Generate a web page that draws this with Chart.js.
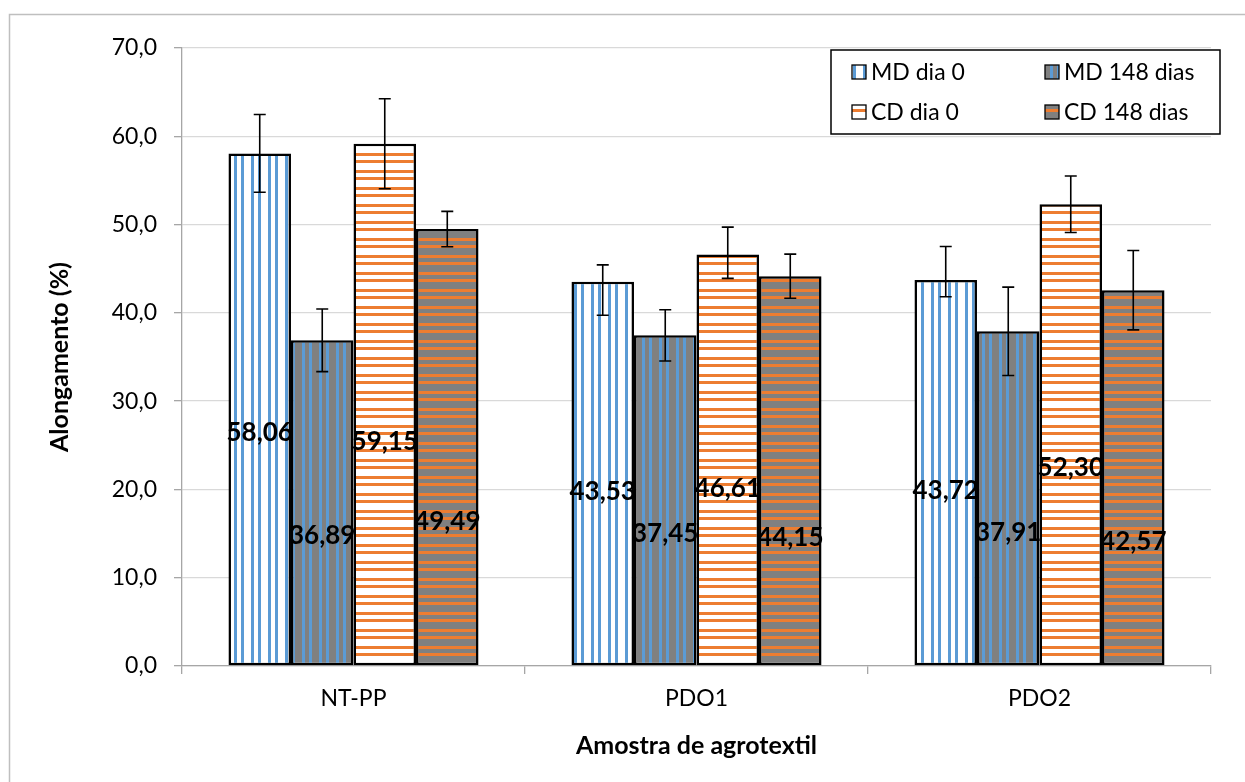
<!DOCTYPE html>
<html>
<head>
<meta charset="utf-8">
<script src="https://cdn.jsdelivr.net/npm/chart.js@4.4.1/dist/chart.umd.min.js"></script>
<style>
  html, body { margin: 0; padding: 0; background: #ffffff; }
  #wrap { width: 1245px; height: 782px; position: relative; }
</style>
</head>
<body>
<div id="wrap"><canvas id="c" width="1245" height="782"></canvas></div>
<script>
// Alongamento por amostra de agrotextil
const categories = ['NT-PP', 'PDO1', 'PDO2'];
const seriesNames = ['MD dia 0', 'MD 148 dias', 'CD dia 0', 'CD 148 dias'];

const mdDia0 = [58.06, 43.53, 43.72];
const md148 = [36.89, 37.45, 37.91];
const cdDia0 = [59.15, 46.61, 52.30];
const cd148 = [49.49, 44.15, 42.57];

// desvios (superior / inferior)
const mdDia0ErrUp = [4.4, 1.9, 3.8];
const mdDia0ErrDown = [4.4, 3.8, 1.9];
const md148Err = [3.55, 2.9, 5.0];
const cdDia0ErrUp = [5.1, 3.1, 3.2];
const cdDia0ErrDown = [5.1, 2.7, 3.2];
const cd148Err = [2.0, 2.5, 4.5];

const yMin = 0, yMax = 70, yStep = 10;

const FONT = 'Lato, "Open Sans", sans-serif';
const BLUE = '#5B9BD5', ORANGE = '#ED7D31', GREY = '#808080';

const canvas = document.getElementById('c');
const ctx = canvas.getContext('2d');

// two-stripe fill used by the bars and legend keys
function stripes(bg, fg, vertical) {
  const t = document.createElement('canvas');
  t.width = 17; t.height = 17;
  const g = t.getContext('2d');
  g.fillStyle = bg; g.fillRect(0, 0, 17, 17);
  g.fillStyle = fg;
  if (vertical) {
    g.fillRect(3, 0, 3, 17);
    g.fillRect(13, 0, 3, 17);
  } else {
    g.fillRect(0, 0, 17, 3);
    g.fillRect(0, 7, 17, 3);
  }
  return ctx.createPattern(t, 'repeat');
}

const fills = [
  stripes('#ffffff', BLUE, true),
  stripes(GREY, BLUE, true),
  stripes('#ffffff', ORANGE, false),
  stripes(GREY, ORANGE, false)
];

const comma = (v, d) => v.toFixed(d).replace('.', ',');

function makeSet(i, data, up, down, labelDepth) {
  return {
    label: seriesNames[i],
    data: data,
    errUp: up,
    errDown: down,
    labelDepth: labelDepth,
    backgroundColor: fills[i],
    borderColor: '#000000',
    borderWidth: 2.5,
    borderSkipped: false,
    barPercentage: 1.0,
    categoryPercentage: 0.729
  };
}

// frame around the whole chart
const framePlugin = {
  id: 'frame',
  beforeDraw(chart) {
    const c = chart.ctx;
    c.save();
    c.fillStyle = '#ffffff';
    c.fillRect(0, 0, chart.width, chart.height);
    c.strokeStyle = '#BFBFBF';
    c.lineWidth = 1.5;
    c.strokeRect(9.5, 14.5, 1300, 900);
    c.restore();
  }
};

// error bars and value labels
const barExtras = {
  id: 'barExtras',
  afterDatasetsDraw(chart) {
    const c = chart.ctx;
    const ys = chart.scales.y;
    c.save();
    chart.data.datasets.forEach((ds, i) => {
      const meta = chart.getDatasetMeta(i);
      meta.data.forEach((bar, j) => {
        const v = ds.data[j];
        const top = ys.getPixelForValue(v + ds.errUp[j]);
        const bot = ys.getPixelForValue(v - ds.errDown[j]);
        c.strokeStyle = '#000000';
        c.lineWidth = 1.6;
        c.beginPath();
        c.moveTo(bar.x, top); c.lineTo(bar.x, bot);
        c.moveTo(bar.x - 6, top); c.lineTo(bar.x + 6, top);
        c.moveTo(bar.x - 6, bot); c.lineTo(bar.x + 6, bot);
        c.stroke();
      });
    });
    c.font = 'bold 26px ' + FONT;
    c.fillStyle = '#000000';
    c.textAlign = 'center';
    c.textBaseline = 'middle';
    chart.data.datasets.forEach((ds, i) => {
      const meta = chart.getDatasetMeta(i);
      meta.data.forEach((bar, j) => {
        const v = ds.data[j];
        c.fillText(comma(v, 2), bar.x, ys.getPixelForValue(v * ds.labelDepth));
      });
    });
    c.restore();
  }
};

// legend box and axis titles
const decor = {
  id: 'decor',
  afterDraw(chart) {
    const c = chart.ctx;
    const area = chart.chartArea;
    c.save();
    // legend
    c.fillStyle = '#ffffff';
    c.fillRect(831, 50, 389, 84);
    c.strokeStyle = '#000000';
    c.lineWidth = 1.5;
    c.strokeRect(831, 50, 389, 84);
    const spots = [[852, 72], [1045, 72], [852, 112], [1045, 112]];
    c.font = '23px ' + FONT;
    c.textAlign = 'left';
    c.textBaseline = 'middle';
    chart.data.datasets.forEach((ds, k) => {
      const [x, y] = spots[k];
      c.fillStyle = ds.backgroundColor;
      c.fillRect(x, y - 7, 14, 14);
      c.strokeStyle = '#000000';
      c.lineWidth = 1.3;
      c.strokeRect(x, y - 7, 14, 14);
      c.fillStyle = '#000000';
      c.fillText(ds.label, x + 19, y + 1);
    });
    // axis titles
    c.font = 'bold 25px ' + FONT;
    c.textAlign = 'center';
    c.textBaseline = 'middle';
    c.fillText('Amostra de agrotextil', (area.left + area.right) / 2, 746);
    c.translate(60, (area.top + area.bottom) / 2);
    c.rotate(-Math.PI / 2);
    c.fillText('Alongamento (%)', 0, 0);
    c.restore();
  }
};

new Chart(canvas, {
  type: 'bar',
  data: {
    labels: categories,
    datasets: [
      makeSet(0, mdDia0, mdDia0ErrUp, mdDia0ErrDown, 0.455),
      makeSet(1, md148, md148Err, md148Err, 0.40),
      makeSet(2, cdDia0, cdDia0ErrUp, cdDia0ErrDown, 0.43),
      makeSet(3, cd148, cd148Err, cd148Err, 0.33)
    ]
  },
  options: {
    responsive: false,
    animation: false,
    layout: { padding: { left: 0, top: 48, right: 34, bottom: 0 } },
    plugins: {
      legend: { display: false },
      tooltip: { enabled: false },
      title: { display: false }
    },
    scales: {
      x: {
        afterFit(s) { s.height = 116; },
        grid: {
          offset: true,
          drawOnChartArea: false,
          drawTicks: true,
          tickLength: 8,
          tickColor: '#A6A6A6',
          lineWidth: 1.3
        },
        border: { color: '#A6A6A6', width: 1.3 },
        ticks: {
          color: '#000000',
          padding: 11,
          font: { family: FONT, size: 23 }
        }
      },
      y: {
        min: yMin,
        max: yMax,
        afterFit(s) { s.width = 182; },
        grid: {
          color: '#D9D9D9',
          lineWidth: 1.3,
          drawTicks: true,
          tickLength: 8,
          tickColor: '#A6A6A6'
        },
        border: { color: '#A6A6A6', width: 1.3 },
        ticks: {
          stepSize: yStep,
          color: '#000000',
          padding: 17,
          font: { family: FONT, size: 23 },
          callback: (v) => comma(v, 1)
        }
      }
    }
  },
  plugins: [framePlugin, barExtras, decor]
});
</script>
</body>
</html>
